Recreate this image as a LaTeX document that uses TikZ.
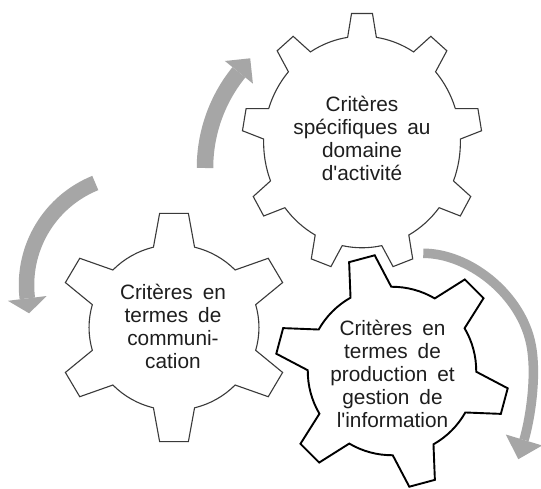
\documentclass[tikz,border=0pt]{standalone}
\usepackage{fontspec}
\setmainfont{Liberation Sans}
\newfontfamily\aposfont{Liberation Sans}[Ligatures=TeXOff]
\definecolor{arrgrey}{HTML}{A6A6A6}
\definecolor{gearline}{HTML}{3A3A3A}
\definecolor{txt}{HTML}{1E1E1E}
\newcommand{\apos}{{\aposfont '}}
\newcommand{\lblfont}{\fontsize{20.8}{23.2}\selectfont\spaceskip=0.48em plus 0.1em\relax}
% #1 style, #2 cx, #3 cy, #4 a, #5 b, #6 teeth, #7 first tooth angle, #8 inner radius, #9 base half-angle
\newcommand{\gearshape}[9]{%
\begin{scope}[shift={(#2,#3)}, xscale=#4, yscale=#5]
\pgfmathsetmacro\gst{360/#6}
\pgfmathtruncatemacro\gnm{#6-1}
\pgfmathsetmacro\ggap{(\gst-2*#9)/8}
\draw[#1] ({#7-#9}:#8) \foreach \k in {0,...,\gnm}{
  -- ({#7+\k*\gst-\geartau}:1) -- ({#7+\k*\gst+\geartau}:1)
  \foreach \j in {0,...,8}{ -- ({#7+\k*\gst+#9+\j*\ggap}:#8) }
} -- cycle;
\end{scope}}
\tikzset{
  gearthin/.style={draw=gearline, fill=white, line width=1.1pt, line join=miter},
  gearthick/.style={draw=black, fill=white, line width=1.9pt, line join=miter},
  lbl/.style={align=center, inner sep=0pt, text=txt, font=\lblfont},
  arrbody/.style={draw=arrgrey, line cap=butt},
  arrhead/.style={fill=arrgrey}
}
\begin{document}
\begin{tikzpicture}[x=1pt, y=-1pt]
\useasboundingbox (0,0) rectangle (541,489);
\fill[white] (0,0) rectangle (541,489);
% gears
\def\geartau{5}
\gearshape{gearthin}{362}{142}{120}{129}{9}{-90}{0.82}{8.4}
\def\geartau{7}
\gearshape{gearthin}{174}{327.5}{118}{115}{6}{30}{0.72}{14}
\def\geartau{6.5}
\gearshape{gearthick}{392}{371}{117}{117}{6}{15}{0.72}{14.5}
% arrow 1
\coordinate (a1tip) at (250.2,58.3);
\coordinate (a1l) at (224.9,61);
\coordinate (a1r) at (252.9,83.6);
\draw[arrbody, line width=16.5pt] plot[domain=180:219, samples=40] ({357+152*cos(\x)},{168+152*sin(\x)});
\fill[arrhead] (a1l) -- (a1tip) -- (a1r) -- cycle;
% arrow 2
\coordinate (a2tip) at (29.1,313.3);
\coordinate (a2l) at (46.7,296.0);
\coordinate (a2r) at (7.9,300.8);
\draw[arrbody, line width=15.5pt] plot[domain=-112:-187, samples=50] ({136.5+110*cos(\x)},{285+110*sin(\x)});
\fill[arrhead] (a2l) -- (a2tip) -- (a2r) -- cycle;
% arrow 3
\coordinate (a3s) at (423.3,253.3);
\coordinate (a3m) at (530,340);
\coordinate (a3e) at (524,440);
\coordinate (a3tip) at (518.3,459.2);
\coordinate (a3l) at (505.8,434.5);
\coordinate (a3r) at (542.2,445.5);
\draw[arrbody, line width=9.5pt] (a3s) .. controls (468,253.3) and (518,292) .. (a3m) .. controls (538,372) and (530,420) .. (a3e);
\fill[arrhead] (a3l) -- (a3tip) -- (a3r) -- cycle;
% labels
\node[lbl] (t1) at (362,138.5) {Critères\\spécifiques au\\domaine\\d\apos activité};
\node[lbl] (t2) at (173,326.5) {Critères en\\termes de\\communi-\\cation};
\node[lbl] (t3) at (392.5,374) {Critères en\\termes de\\production et\\gestion de\\l\apos information};
\end{tikzpicture}
\end{document}
